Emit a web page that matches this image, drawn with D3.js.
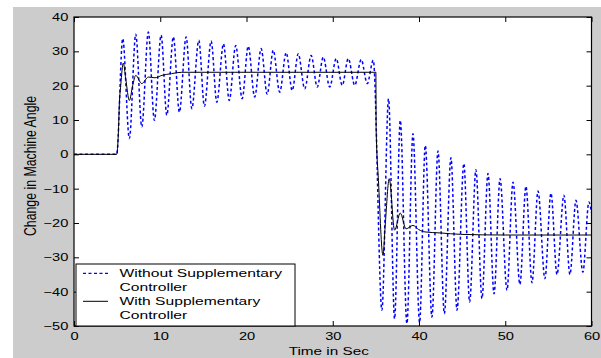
<!DOCTYPE html>
<html>
<head>
<meta charset="utf-8">
<script src="https://cdn.jsdelivr.net/npm/d3@7"></script>
<style>
  body { margin: 0; background: #fff; }
  svg { display: block; }
  text { font-family: "Liberation Sans", Arial, sans-serif; }
</style>
</head>
<body>
<div id="chart"></div>
<script>
// tick values
const xTicks = [0, 10, 20, 30, 40, 50, 60];
const yTicks = [-50, -40, -30, -20, -10, 0, 10, 20, 30, 40];

// legend text (two lines each)
const legendLabels = [
  ['Without Supplementary', 'Controller'],
  ['With Supplementary', 'Controller']
];

// without controller: turning points (time in s, angle)
const blueTime = [
  0, 4.95, 5.65, 6.42, 7.16, 7.86, 8.62, 9.32, 10.1, 10.76, 11.52, 12.22, 13.0, 13.66,
  14.47, 15.12, 15.9, 16.56, 17.33, 18.0, 18.75, 19.5, 20.2, 20.95, 21.7, 22.4, 23.1,
  23.85, 24.6, 25.3, 26.0, 26.75, 27.5, 28.2, 28.9, 29.65, 30.4, 31.1, 31.8, 32.55, 33.3,
  34.0, 34.7,
  35.7, 36.47, 37.17, 37.83, 38.6, 39.3, 40.07, 40.73, 41.5, 42.2, 42.94, 43.7, 44.41,
  45.2, 45.87, 46.6, 47.3, 48.0, 48.7, 49.4, 50.2, 50.9, 51.7, 52.4, 53.1, 53.8, 54.6,
  55.3, 56.0, 56.8, 57.5, 58.2, 59.0, 59.7, 60
];
const blueAngle = [
  0, 0, 33.7, 4.6, 35.0, 8.0, 35.6, 9.9, 34.7, 11.4, 34.2, 12.3, 34.2, 13.3,
  33.2, 14.0, 33.0, 15.2, 32.2, 15.7, 31.7, 16.2, 31.5, 16.7, 30.8, 17.5, 30.3,
  18.1, 29.6, 18.6, 29.3, 19.1, 28.8, 19.6, 28.3, 19.6, 27.9, 20.1, 27.9, 20.1, 27.6,
  20.6, 27.4,
  -45.4, 16.2, -47.9, 9.9, -49.3, 6.0, -49.0, 2.6, -47.4, 1.0, -46.4, -1.0, -45.4,
  -2.7, -43.0, -4.5, -42.0, -5.6, -40.6, -7.1, -39.6, -8.1, -37.9, -9.3, -37.4, -10.7, -36.2,
  -11.3, -35.0, -11.9, -35.0, -13.4, -34.3, -13.9, -17
];

// with controller
const blackTime = [
  0, 4.95, 5.14, 5.26, 5.42, 5.72, 6.0, 6.42, 6.8, 7.16, 7.86, 8.62, 9.4, 10.2, 11.3, 12.5,
  35.0, 35.03, 35.3, 35.82, 36.1, 36.55, 37.17, 37.83, 38.5, 39.3, 39.96, 40.7, 42.5,
  44.8, 50, 60
];
const blackAngle = [
  0, 0, 6, 14.8, 20.1, 26.6, 22, 15.7, 20, 23.0, 20.6, 22.5, 22.3, 23.0, 23.5, 23.9,
  23.9, 7.5, -7.6, -29.4, -20, -7.1, -22.1, -17.1, -21.7, -20.7, -21.9, -22.6, -22.9,
  -23.3, -23.5, -23.5
];

const width = 601;
const height = 358;
const marginTop = 17;
const marginRight = 9.5;
const marginBottom = 32;
const marginLeft = 74;
const stretch = 1.33; // picture is widened, text too

const svg = d3.select('#chart')
  .append('svg')
  .attr('width', width)
  .attr('height', height);

// gray figure background
svg.append('rect')
  .attr('x', 13).attr('y', 7)
  .attr('width', width - 13).attr('height', height - 7)
  .attr('fill', '#cccccc');

const x = d3.scaleLinear().domain([0, 60]).range([marginLeft, width - marginRight]);
const y = d3.scaleLinear().domain([-50, 40]).range([height - marginBottom, marginTop]);

svg.append('rect')
  .attr('x', x(0)).attr('y', y(40))
  .attr('width', x(60) - x(0)).attr('height', y(-50) - y(40))
  .attr('fill', '#fff');

svg.append('clipPath').attr('id', 'clip')
  .append('rect')
  .attr('x', x(0)).attr('y', y(40))
  .attr('width', x(60) - x(0)).attr('height', y(-50) - y(40));

const line = d3.line()
  .x(d => x(d[0]))
  .y(d => y(d[1]))
  .curve(d3.curveMonotoneX);

const plot = svg.append('g').attr('clip-path', 'url(#clip)');

plot.append('path')
  .datum(blueTime.map((t, i) => [t, blueAngle[i]]))
  .attr('fill', 'none')
  .attr('stroke', '#0000ff')
  .attr('stroke-width', 1.5)
  .attr('stroke-dasharray', '3,2.5')
  .attr('d', line);

plot.append('path')
  .datum(blackTime.map((t, i) => [t, blackAngle[i]]))
  .attr('fill', 'none')
  .attr('stroke', '#000')
  .attr('stroke-width', 1)
  .attr('d', line);

// axes: ticks point inward, labels only on left/bottom
svg.append('g')
  .attr('transform', `translate(0,${y(-50)})`)
  .call(d3.axisBottom(x).tickValues(xTicks).tickSizeInner(-5).tickSizeOuter(0).tickPadding(6))
  .call(g => g.select('.domain').remove())
  .call(g => g.selectAll('text').attr('font-size', 11).attr('fill', '#000')
    .attr('transform', `scale(${stretch},1)`));

svg.append('g')
  .attr('transform', `translate(${x(0)},0)`)
  .call(d3.axisLeft(y).tickValues(yTicks).tickSizeInner(-5).tickSizeOuter(0).tickPadding(4.3))
  .call(g => g.select('.domain').remove())
  .call(g => g.selectAll('text').attr('font-size', 11).attr('fill', '#000')
    .attr('transform', `scale(${stretch},1)`));

svg.append('g')
  .attr('transform', `translate(0,${y(40)})`)
  .call(d3.axisTop(x).tickValues(xTicks).tickSizeInner(-5).tickSizeOuter(0).tickFormat(''))
  .call(g => g.select('.domain').remove());

svg.append('g')
  .attr('transform', `translate(${x(60)},0)`)
  .call(d3.axisRight(y).tickValues(yTicks).tickSizeInner(-5).tickSizeOuter(0).tickFormat(''))
  .call(g => g.select('.domain').remove());

// axes box
svg.append('rect')
  .attr('x', x(0)).attr('y', y(40))
  .attr('width', x(60) - x(0)).attr('height', y(-50) - y(40))
  .attr('fill', 'none')
  .attr('stroke', '#000')
  .attr('stroke-width', 1.2);

// axis titles
svg.append('text')
  .attr('transform', `translate(${(x(0) + x(60)) / 2 - 4},355) scale(${stretch},1)`)
  .attr('text-anchor', 'middle')
  .attr('font-size', 11.5)
  .text('Time in Sec');

svg.append('text')
  .attr('transform', `translate(36,166) scale(${stretch},1) rotate(-90)`)
  .attr('text-anchor', 'middle')
  .attr('font-size', 12.3)
  .text('Change in Machine Angle');

// legend
const legend = svg.append('g');
legend.append('rect')
  .attr('x', 76).attr('y', 264)
  .attr('width', 219).attr('height', y(-50) - 264)
  .attr('fill', '#fff')
  .attr('stroke', '#000')
  .attr('stroke-width', 1);

const legendStyles = [
  { stroke: '#0000ff', dash: '3,2.5', width: 1.3 },
  { stroke: '#000', dash: null, width: 1 }
];

legendLabels.forEach((lines, i) => {
  const top = 277.3 + i * 28;
  legend.append('line')
    .attr('x1', 83).attr('x2', 108)
    .attr('y1', top - 4).attr('y2', top - 4)
    .attr('stroke', legendStyles[i].stroke)
    .attr('stroke-width', legendStyles[i].width)
    .attr('stroke-dasharray', legendStyles[i].dash);
  lines.forEach((s, j) => {
    legend.append('text')
      .attr('transform', `translate(119.5,${top + j * 14}) scale(1.36,1)`)
      .attr('font-size', 11.5)
      .text(s);
  });
});
</script>
</body>
</html>
